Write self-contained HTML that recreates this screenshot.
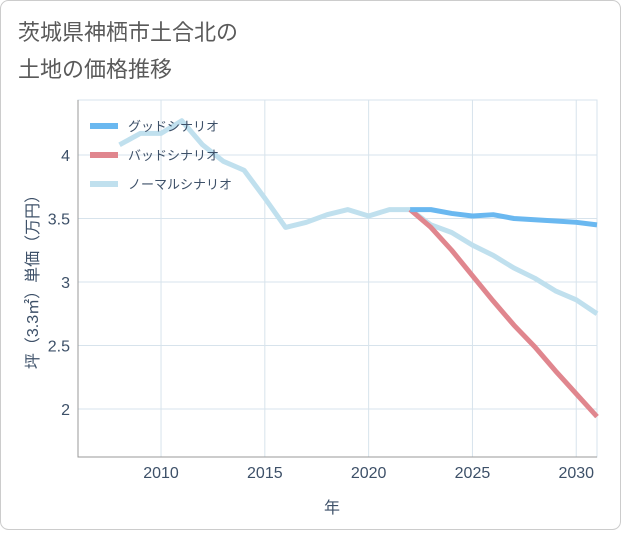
<!DOCTYPE html>
<html><head><meta charset="utf-8"><style>
body{margin:0;background:#fff}
#wrap{position:relative;width:621px;height:530px;font-family:"Liberation Sans","Noto Sans CJK JP",sans-serif}
svg text{font-family:"Liberation Sans","Noto Sans CJK JP",sans-serif}
</style></head><body>
<div id="wrap">
<svg id="chart" width="621" height="530">
<rect x="0.5" y="0.5" width="620" height="529" rx="8" fill="#fff" stroke="#ccc"/>
<text x="18" y="40" font-size="22" fill="#5a5a5a">茨城県神栖市土合北の</text>
<text x="18" y="77" font-size="22" fill="#5a5a5a">土地の価格推移</text>
<g id="grid"></g>
<g id="series"></g>
<g id="legend"></g>
<text x="332" y="513" font-size="16" fill="#3d5068" text-anchor="middle">年</text>
<text transform="translate(38,278) rotate(-90)" font-size="16" fill="#3d5068" text-anchor="middle">坪（3.3㎡）単価（万円）</text>
</svg>
</div>
<script>
const years=[2008,2009,2010,2011,2012,2013,2014,2015,2016,2017,2018,2019,2020,2021,2022,2023,2024,2025,2026,2027,2028,2029,2030,2031];
const normalValues=[4.08,4.17,4.17,4.27,4.08,3.95,3.88,3.66,3.43,3.47,3.53,3.57,3.52,3.57,3.57,3.45,3.39,3.29,3.21,3.11,3.03,2.93,2.86,2.75];
const futureYears=[2022,2023,2024,2025,2026,2027,2028,2029,2030,2031];
const goodValues=[3.57,3.57,3.54,3.52,3.53,3.50,3.49,3.48,3.47,3.45];
const badValues=[3.57,3.43,3.25,3.05,2.85,2.66,2.49,2.30,2.12,1.94];
const xTicks=[2010,2015,2020,2025,2030];
const yTicks=[2,2.5,3,3.5,4];
const seriesNames=["グッドシナリオ","バッドシナリオ","ノーマルシナリオ"];

const L=78,R=597,T=100,B=457;
const X=y=>L+(y-2006)*(R-L)/25;
const Y=v=>155+(4-v)*127;
const NS="http://www.w3.org/2000/svg";
function mk(tag,attrs,parent){const e=document.createElementNS(NS,tag);for(const k in attrs)e.setAttribute(k,attrs[k]);parent.appendChild(e);return e;}
const grid=document.getElementById('grid'),ser=document.getElementById('series'),leg=document.getElementById('legend');
xTicks.forEach(t=>{
 const l=mk('line',{x1:X(t),x2:X(t),y1:T,y2:B,stroke:'#d7e3ec'},grid);
 
 
 const tx=mk('text',{x:X(t),y:B+21,'font-size':16,fill:'#3d5068','text-anchor':'middle'},grid);
 tx.textContent=t;
 
 
});
yTicks.forEach(t=>{
 const l=mk('line',{x1:L,x2:R,y1:Y(t),y2:Y(t),stroke:'#d7e3ec'},grid);
 
 
 const tx=mk('text',{x:L-8,y:Y(t)+6,'font-size':16,fill:'#3d5068','text-anchor':'end'},grid);
 tx.textContent=t;
 
 
});
const frame=mk('rect',{x:L,y:T,width:R-L,height:B-T,fill:'none',stroke:'#d7e3ec'},grid);


const axl=mk('polyline',{points:`${L},${T} ${L},${B} ${R},${B}`,fill:'none',stroke:'#999'},grid);


function line(xs,vs,color,name){
 const p=mk('polyline',{points:xs.map((x,i)=>X(x)+','+Y(vs[i])).join(' '),fill:'none',stroke:color,'stroke-width':5,'stroke-linejoin':'round'},ser);
 
 
}
line(years,normalValues,'#c0e0ee','normal-scenario-line');
line(futureYears,badValues,'#e0868e','bad-scenario-line');
line(futureYears,goodValues,'#6ab8f0','good-scenario-line');
const colors=['#6ab8f0','#e0868e','#c0e0ee'];
seriesNames.forEach((n,i)=>{
 const y=126+i*29;
 const g=mk('g',{},leg);
 
 
 mk('line',{x1:90,x2:118,y1:y,y2:y,stroke:colors[i],'stroke-width':6},g);
 const t=mk('text',{x:128,y:y+5,'font-size':13,fill:'#3d5068'},g);
 t.textContent=n;
});
</script>
</body></html>
